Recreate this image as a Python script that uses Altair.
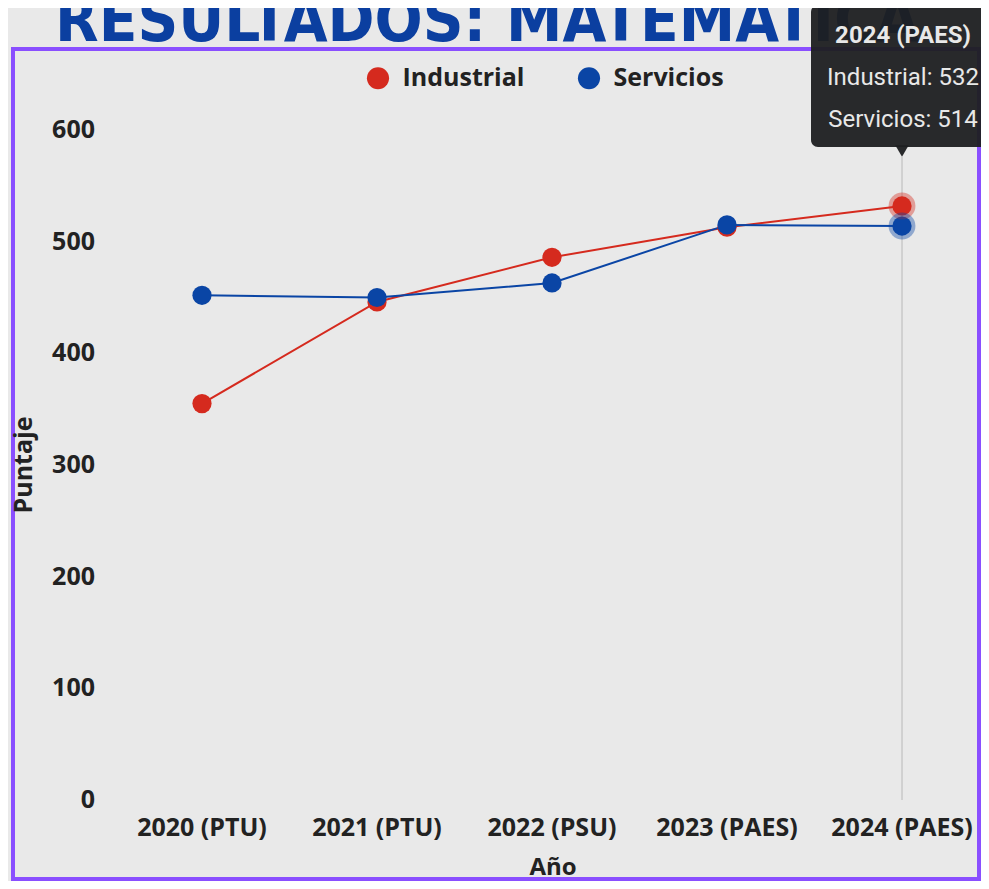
import altair as alt
import pandas as pd

# ---- data -------------------------------------------------------------
years = ["2020 (PTU)", "2021 (PTU)", "2022 (PSU)", "2023 (PAES)", "2024 (PAES)"]
industrial = [355, 446, 486, 513, 532]
servicios = [452, 450, 463, 515, 514]
series_names = ["Industrial", "Servicios"]
series_colors = ["#d52a1e", "#0a45a5"]
y_ticks = [0, 100, 200, 300, 400, 500, 600]
title_text = "RESULTADOS: MATEMÁTICA"
x_title = "Año"
y_title = "Puntaje"

rows = []
for name, vals in zip(series_names, [industrial, servicios]):
    for yr, v in zip(years, vals):
        rows.append({"Año": yr, "Serie": name, "Puntaje": v})
df = pd.DataFrame(rows)
last = df[df["Año"] == years[-1]]

W, H = 973, 873
FONT = "Open Sans"
x_scale = alt.Scale(domain=years, range=[106.5, 981.5], padding=0)
y_scale = alt.Scale(domain=[0, 600], range=[792, 122])
color_scale = alt.Scale(domain=series_names, range=series_colors)

one = pd.DataFrame({"a": [0]})

# border frame
border = alt.Chart(one).mark_rect(fill=None, stroke="#8a4fff", strokeWidth=4).encode(
    x=alt.value(5), x2=alt.value(971), y=alt.value(41), y2=alt.value(871)
)

# big title (cut off at top)
title = alt.Chart(pd.DataFrame({"t": [title_text]})).mark_text(
    font="DejaVu Sans Condensed", fontWeight="bold", fontSize=63, color="#0b3fa0",
    align="left", baseline="alphabetic"
).encode(x=alt.value(47), y=alt.value(33), text="t:N")

# vertical hover rule at last year
vrule = alt.Chart(pd.DataFrame({"Año": [years[-1]]})).mark_rule(
    color="#9a9a9a", strokeWidth=1, opacity=0.6
).encode(
    x=alt.X("Año:N", scale=x_scale, axis=None),
    y=alt.value(149), y2=alt.value(792)
)

lines = alt.Chart(df).mark_line(strokeWidth=2).encode(
    x=alt.X("Año:N", scale=x_scale, axis=None, sort=years),
    y=alt.Y("Puntaje:Q", scale=y_scale, axis=None),
    color=alt.Color(
        "Serie:N", scale=color_scale,
        legend=alt.Legend(
            title=None, orient="none", legendX=357.5, legendY=57.5,
            direction="horizontal", symbolType="circle", symbolSize=490,
            symbolStrokeWidth=0, labelFont=FONT, labelFontSize=25,
            labelFontWeight="bold", labelColor="#222222", labelOffset=12,
            columnPadding=52, padding=0, symbolOpacity=1
        ),
    ),
)

points = alt.Chart(df).mark_circle(size=370, opacity=1).encode(
    x=alt.X("Año:N", scale=x_scale, axis=None, sort=years),
    y=alt.Y("Puntaje:Q", scale=y_scale, axis=None),
    color=alt.Color("Serie:N", scale=color_scale, legend=None),
)

halo = alt.Chart(last).mark_circle(size=720, opacity=0.4).encode(
    x=alt.X("Año:N", scale=x_scale, axis=None),
    y=alt.Y("Puntaje:Q", scale=y_scale, axis=None),
    color=alt.Color("Serie:N", scale=color_scale, legend=None),
)

# y tick labels
ylab = alt.Chart(pd.DataFrame({"v": y_ticks})).mark_text(
    font=FONT, fontSize=25, fontWeight="bold", color="#222222",
    align="right", baseline="middle"
).encode(
    x=alt.value(87),
    y=alt.Y("v:Q", scale=y_scale, axis=None),
    text="v:Q",
)

# x tick labels
xlab = alt.Chart(pd.DataFrame({"Año": years})).mark_text(
    font=FONT, fontSize=25, fontWeight="bold", color="#222222",
    align="center", baseline="middle"
).encode(
    x=alt.X("Año:N", scale=x_scale, axis=None),
    y=alt.value(820),
    text="Año:N",
)

xtitle = alt.Chart(pd.DataFrame({"t": [x_title]})).mark_text(
    font=FONT, fontSize=24, fontWeight="bold", color="#222222",
    align="center", baseline="middle"
).encode(x=alt.value(545), y=alt.value(860), text="t:N")

ytitle = alt.Chart(pd.DataFrame({"t": [y_title]})).mark_text(
    font=FONT, fontSize=25, fontWeight="bold", color="#222222",
    align="center", baseline="alphabetic", angle=270
).encode(x=alt.value(24), y=alt.value(457), text="t:N")

# static tooltip
tip_box = alt.Chart(one).mark_rect(
    fill="#1e1f21", opacity=0.95, cornerRadius=7
).encode(x=alt.value(803), x2=alt.value(990), y=alt.value(-3), y2=alt.value(139))

tip_arrow = alt.Chart(pd.DataFrame({"Año": [years[-1]]})).mark_point(
    shape="triangle-down", filled=True, fill="#1e1f21", opacity=0.95, size=180
).encode(
    x=alt.X("Año:N", scale=x_scale, axis=None), y=alt.value(143)
)

tip_lines = pd.DataFrame({
    "txt": [years[-1],
            f"{series_names[0]}: {industrial[-1]}",
            f"{series_names[1]}: {servicios[-1]}"],
    "row": [0, 1, 2],
})
tip_title = alt.Chart(tip_lines[tip_lines.row == 0]).mark_text(
    font="Roboto", fontSize=24, fontWeight="bold", color="#e8e8e8",
    align="center", baseline="middle"
).encode(x=alt.value(895), y=alt.value(28), text="txt:N")
tip_body = alt.Chart(tip_lines[tip_lines.row > 0]).mark_text(
    font="Roboto", fontSize=24, color="#e8e8e8",
    align="center", baseline="middle"
).encode(
    x=alt.value(895),
    y=alt.Y("row:Q", scale=alt.Scale(domain=[1, 2], range=[70, 112]), axis=None),
    text="txt:N",
)

chart = alt.layer(
    border, title, vrule, lines, points, halo, ylab, xlab, xtitle, ytitle,
    tip_box, tip_arrow, tip_title, tip_body
).resolve_scale(y="independent").properties(
    width=W, height=H, autosize=alt.AutoSizeParams(type="none"),
    padding=0, background="#e9e9e9"
).configure_view(stroke=None)

chart.save("out.html", embed_options={"renderer": "svg", "actions": False})
